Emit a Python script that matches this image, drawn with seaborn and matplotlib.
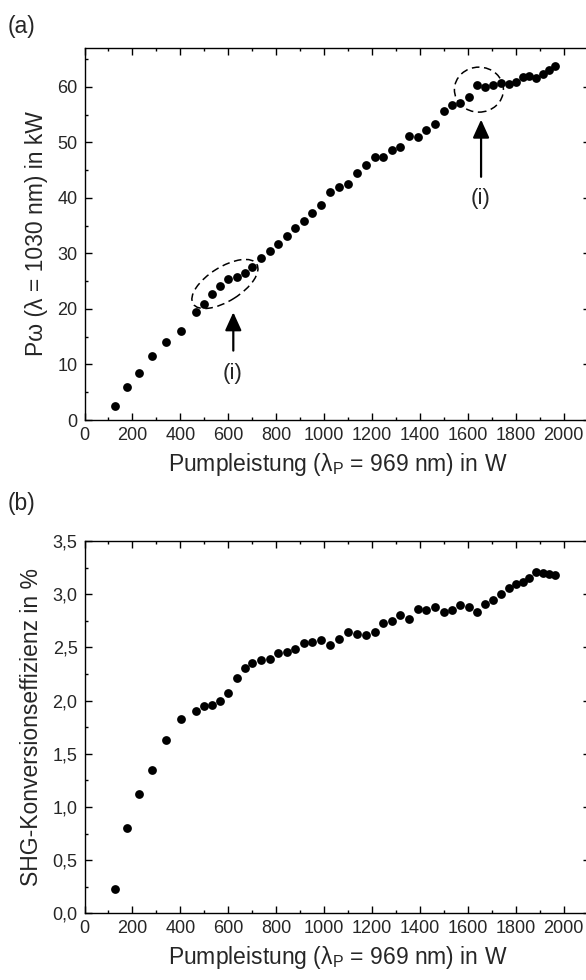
import matplotlib
matplotlib.use("Agg")
import matplotlib.pyplot as plt
import seaborn as sns
import pandas as pd
from matplotlib.patches import Ellipse
from matplotlib.transforms import ScaledTranslation
from matplotlib.ticker import MultipleLocator, FuncFormatter

# ---------------- data ----------------
pump_power = [129, 176, 226, 282, 339, 403, 465, 500, 532, 567, 600, 635, 670, 701,
              738, 774, 808, 844, 879, 917, 951, 989, 1025, 1062, 1099, 1136, 1174,
              1211, 1246, 1282, 1318, 1354, 1390, 1426, 1463, 1499, 1534, 1569, 1604,
              1637, 1671, 1704, 1737, 1771, 1801, 1829, 1857, 1883, 1913, 1938, 1964]
p_fund_kw = [2.6, 6.0, 8.5, 11.5, 14.1, 16.0, 19.4, 20.9, 22.7, 24.2, 25.4, 25.7, 26.4,
             27.5, 29.1, 30.5, 31.7, 33.1, 34.6, 35.8, 37.3, 38.7, 41.0, 41.9, 42.5,
             44.4, 45.9, 47.4, 47.3, 48.6, 49.2, 51.1, 51.0, 52.3, 53.3, 55.6, 56.7,
             57.1, 58.1, 60.4, 60.0, 60.4, 60.7, 60.5, 60.9, 61.7, 62.0, 61.6, 62.35,
             63.0, 63.7]
shg_eff_pct = [0.23, 0.80, 1.12, 1.35, 1.63, 1.83, 1.90, 1.95, 1.96, 2.00, 2.07, 2.21,
               2.31, 2.355, 2.38, 2.39, 2.45, 2.46, 2.48, 2.54, 2.55, 2.57, 2.52, 2.58,
               2.64, 2.63, 2.62, 2.64, 2.73, 2.75, 2.80, 2.77, 2.86, 2.855, 2.88, 2.83,
               2.85, 2.90, 2.88, 2.83, 2.91, 2.95, 3.00, 3.06, 3.10, 3.11, 3.15, 3.21,
               3.20, 3.19, 3.18]
x_ticks = [0, 200, 400, 600, 800, 1000, 1200, 1400, 1600, 1800, 2000]
xlabel = "Pumpleistung ($\\mathregular{\\lambda_P}$ = 969 nm) in W"
ylabel_a = "P\u03c9 (\u03bb = 1030 nm) in kW"
ylabel_b = "SHG-Konversionseffizienz in %"

df = pd.DataFrame({"P": pump_power, "Pw": p_fund_kw, "eta": shg_eff_pct})

# ---------------- style ----------------
sns.set_style("ticks")
plt.rcParams["font.family"] = ["Liberation Sans", "DejaVu Sans"]
plt.rcParams["mathtext.fontset"] = "custom"
plt.rcParams["mathtext.rm"] = "Liberation Sans"
plt.rcParams["mathtext.it"] = "Liberation Sans:italic"

W, H = 586, 980
fig = plt.figure(figsize=(W / 100, H / 100), dpi=100)

left = 84.5 / W
width = 505.6 / W
ax_a = fig.add_axes([left, 1 - 420 / H, width, 372 / H])
ax_b = fig.add_axes([left, 1 - 913.3 / H, width, 372.3 / H])

TICK_FS = 13
LABEL_FS = 16.5

for ax in (ax_a, ax_b):
    ax.set_xlim(0, 2110)
    ax.set_xticks(x_ticks)
    ax.xaxis.set_minor_locator(MultipleLocator(100))
    ax.tick_params(which="both", direction="in", top=True, right=True,
                   labelsize=TICK_FS, width=1.0, color="black", pad=5)
    ax.tick_params(which="major", length=5)
    ax.tick_params(which="minor", length=2.5)
    for s in ax.spines.values():
        s.set_linewidth(1.0)
        s.set_color("black")

# ---------------- panel (a) ----------------
sns.scatterplot(data=df, x="P", y="Pw", ax=ax_a, color="black", s=40,
                linewidth=0, legend=False)
ax_a.set_ylim(0, 67)
ax_a.yaxis.set_major_locator(MultipleLocator(10))
ax_a.yaxis.set_minor_locator(MultipleLocator(5))
ax_a.set_xlabel(xlabel, fontsize=LABEL_FS, labelpad=5)
ax_a.set_ylabel(ylabel_a, fontsize=LABEL_FS, labelpad=7)

# ellipses (annotation)
e1 = Ellipse((0, 0), 0.75, 0.34, angle=32, fill=False, ec="black", lw=1.1,
             ls=(0, (5, 3)),
             transform=fig.dpi_scale_trans + ScaledTranslation(586, 24.5, ax_a.transData))
e2 = Ellipse((0, 0), 0.49, 0.45, angle=0, fill=False, ec="black", lw=1.1,
             ls=(0, (5, 3)),
             transform=fig.dpi_scale_trans + ScaledTranslation(1646, 59.5, ax_a.transData))
ax_a.add_patch(e1)
ax_a.add_patch(e2)

arrow_kw = dict(arrowstyle="-|>,head_length=1.1,head_width=0.5", color="black",
                lw=1.6, shrinkA=0, shrinkB=0, mutation_scale=10)
ax_a.annotate("", xy=(621, 19.4), xytext=(621, 12.5), arrowprops=arrow_kw)
ax_a.annotate("", xy=(1655, 54.1), xytext=(1655, 43.8), arrowprops=arrow_kw)
ax_a.text(616, 8.4, "(i)", fontsize=16, ha="center", va="center")
ax_a.text(1652, 39.9, "(i)", fontsize=16, ha="center", va="center")

# ---------------- panel (b) ----------------
sns.scatterplot(data=df, x="P", y="eta", ax=ax_b, color="black", s=40,
                linewidth=0, legend=False)
ax_b.set_ylim(0, 3.5)
ax_b.yaxis.set_major_locator(MultipleLocator(0.5))
ax_b.yaxis.set_minor_locator(MultipleLocator(0.25))
ax_b.yaxis.set_major_formatter(FuncFormatter(lambda v, p: f"{v:.1f}".replace(".", ",")))
ax_b.set_xlabel(xlabel, fontsize=LABEL_FS, labelpad=5)
ax_b.set_ylabel(ylabel_b, fontsize=LABEL_FS, labelpad=7)

fig.text(8 / W, 1 - 26 / H, "(a)", fontsize=16.5, ha="left", va="center")
fig.text(8 / W, 1 - 503 / H, "(b)", fontsize=16.5, ha="left", va="center")

fig.savefig("out.png", dpi=100)
